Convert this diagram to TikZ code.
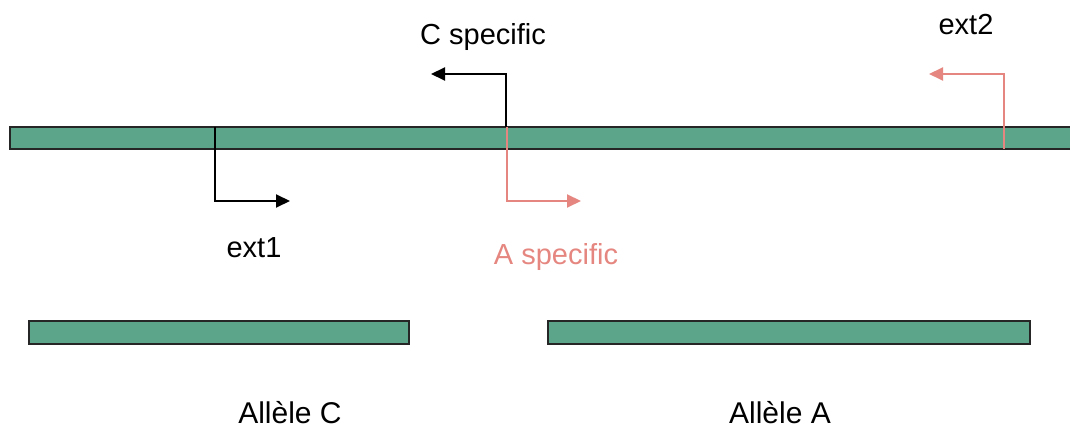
\documentclass[tikz,border=0pt]{standalone}
\usepackage{fontspec}
\setmainfont{Liberation Sans}
\usetikzlibrary{arrows.meta}
\definecolor{bargreen}{RGB}{92,164,138}
\definecolor{primpink}{RGB}{229,135,128}
\tikzset{
  bar/.style={draw=black!85, line width=1.3pt, fill=bargreen},
  primer/.style={line width=2pt, -{Triangle[length=14pt,width=13pt]}},
  lbl/.style={anchor=base, inner sep=0pt, font=\fontsize{29}{33}\selectfont},
  lblsmall/.style={anchor=base, inner sep=0pt, font=\fontsize{30}{34}\selectfont},
}
\begin{document}
\begin{tikzpicture}[x=1pt,y=-1pt]
\useasboundingbox (0,0) rectangle (1070,430);
% bars
\path[bar] (10,127) rectangle (1076,149);
\path[bar] (29,321) rectangle (409,344);
\path[bar] (548,321) rectangle (1030,344);
% anchor coordinates on the bar
\coordinate (e1s) at (215,127);
\coordinate (e1c) at (215,201);
\coordinate (e1t) at (290,201);
\coordinate (cs) at (506,127);
\coordinate (cc) at (506,74);
\coordinate (ct) at (431,74);
\coordinate (as) at (507,127);
\coordinate (ac) at (507,201);
\coordinate (at) at (581,201);
\coordinate (e2s) at (1004,149);
\coordinate (e2c) at (1004,74);
\coordinate (e2t) at (929,74);
% primers
\draw[primer, black] (cs) -- (cc) -- (ct);
\draw[primer, black] (e1s) -- (e1c) -- (e1t);
\draw[primer, primpink] (as) -- (ac) -- (at);
\draw[primer, primpink] (e2s) -- (e2c) -- (e2t);
% labels
\node[lbl] (lc) at (483,45) {C specific};
\node[lbl] (le2) at (966,35) {ext2};
\node[lbl] (le1) at (254,258) {ext1};
\node[lbl, text=primpink] (la) at (556,265) {A specific};
\node[lblsmall] (lac) at (290,423) {Allèle C};
\node[lblsmall] (laa) at (780,423) {Allèle A};
\end{tikzpicture}
\end{document}
